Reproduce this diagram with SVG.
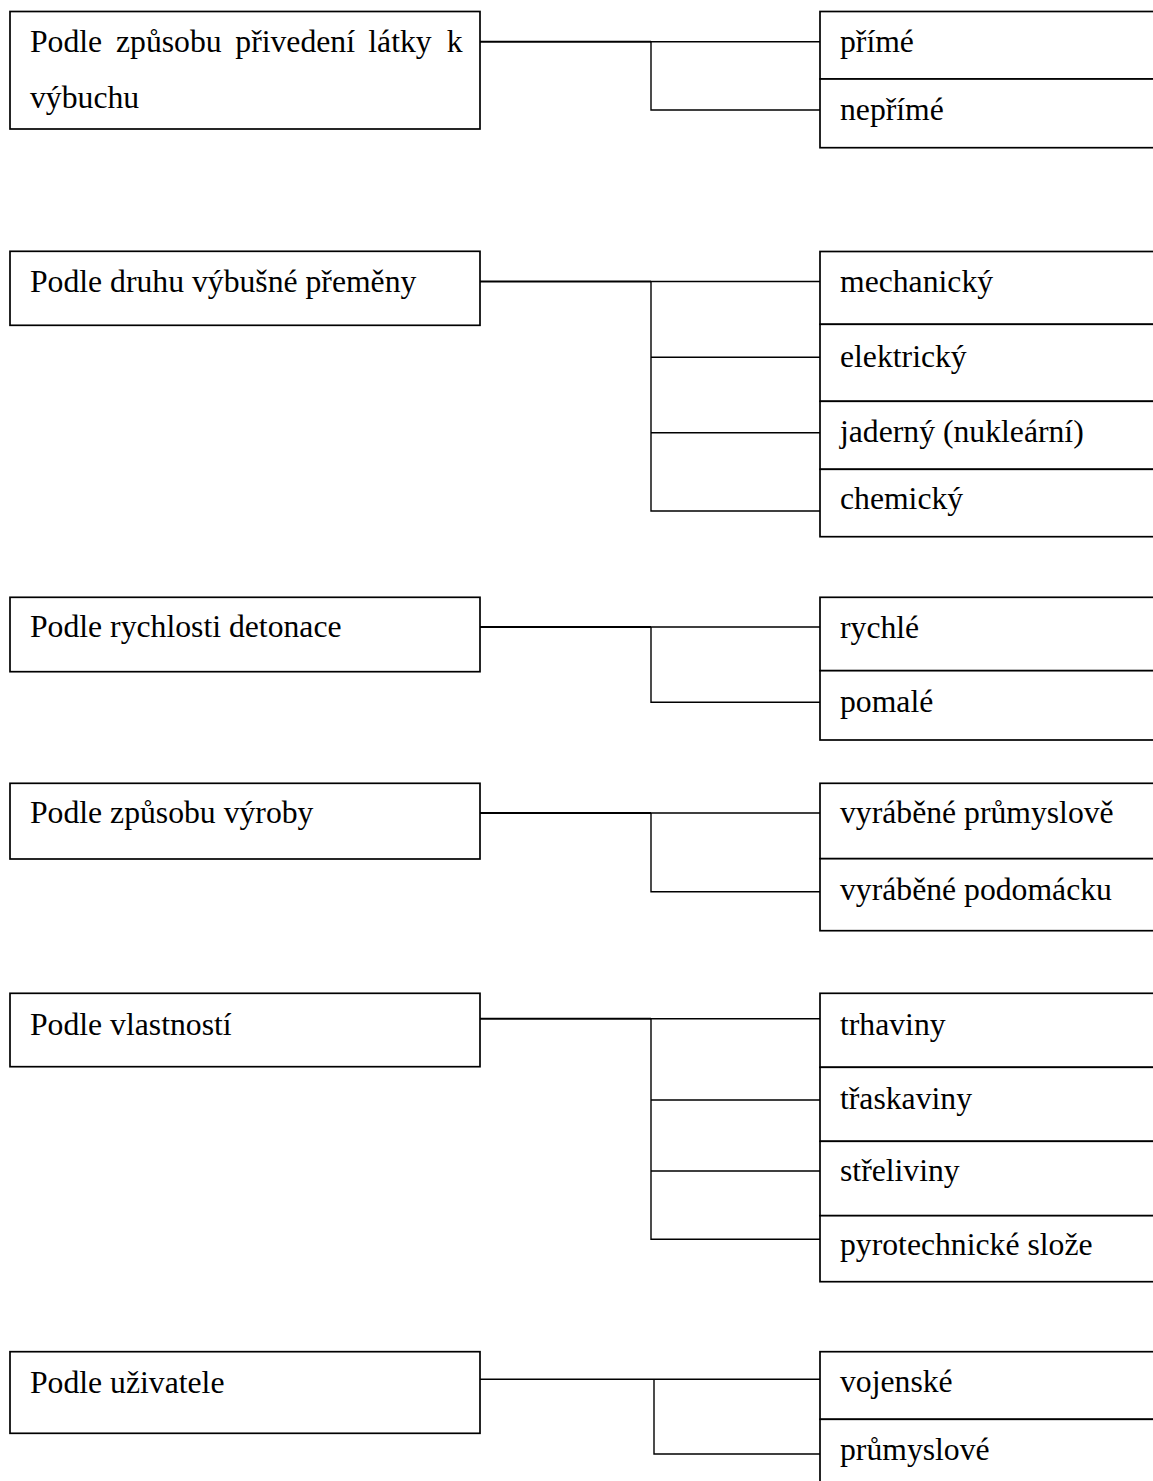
<svg xmlns="http://www.w3.org/2000/svg" width="1153" height="1481" viewBox="0 0 1153 1481">
<style>
.box{fill:#fff;stroke:#000;stroke-width:1.7}
.t{font-family:"Liberation Serif","Times New Roman",serif;font-size:31.7px;fill:#000}
.trunk{fill:none;stroke:#000;stroke-width:2}
.br{fill:none;stroke:#000;stroke-width:1.4}
</style>
<rect width="1153" height="1481" fill="#fff"/>
<g id="connectors">
<path class="trunk" d="M480 41.7H651"/>
<path class="br" d="M651 41.7H820M651 41.7V110H820"/>
<path class="trunk" d="M480 281.5H651"/>
<path class="br" d="M651 281.5H820M651 281.5V511H820M651 357.3H820M651 432.7H820"/>
<path class="trunk" d="M480 627H651"/>
<path class="br" d="M651 627H820M651 627V702.3H820"/>
<path class="trunk" d="M480 813H651"/>
<path class="br" d="M651 813H820M651 813V891.7H820"/>
<path class="trunk" d="M480 1018.8H651"/>
<path class="br" d="M651 1018.8H820M651 1018.8V1239.3H820M651 1100H820M651 1171H820"/>
<path class="br" d="M480 1379.3H654M654 1379.3H820M654 1379.3V1454H820"/>
</g>
<g id="n1">
<rect class="box" x="10" y="11.5" width="470" height="117.5"/>
<text class="t" y="52.3"><tspan x="30">Podle</tspan><tspan x="116">způsobu</tspan><tspan x="235.3">přivedení</tspan><tspan x="368.3">látky</tspan><tspan x="446.7">k</tspan></text>
<text class="t" x="30" y="108.3">výbuchu</text>
</g>
<g id="n1a"><rect class="box" x="820" y="11.5" width="350" height="67.5"/><text class="t" x="840" y="52.3">přímé</text></g>
<g id="n1b"><rect class="box" x="820" y="79" width="350" height="68.7"/><text class="t" x="840" y="120">nepřímé</text></g>

<g id="n2"><rect class="box" x="10" y="251.3" width="470" height="74"/><text class="t" x="30" y="291.7">Podle druhu výbušné přeměny</text></g>
<g id="n2a"><rect class="box" x="820" y="251.5" width="350" height="72.8"/><text class="t" x="840" y="291.7">mechanický</text></g>
<g id="n2b"><rect class="box" x="820" y="324.3" width="350" height="77"/><text class="t" x="840" y="366.7">elektrický</text></g>
<g id="n2c"><rect class="box" x="820" y="401.3" width="350" height="68"/><text class="t" x="840" y="441.7">jaderný (nukleární)</text></g>
<g id="n2d"><rect class="box" x="820" y="469.3" width="350" height="67.4"/><text class="t" x="840" y="509.3">chemický</text></g>

<g id="n3"><rect class="box" x="10" y="597.3" width="470" height="74.4"/><text class="t" x="30" y="637.3">Podle rychlosti detonace</text></g>
<g id="n3a"><rect class="box" x="820" y="597.3" width="350" height="73.4"/><text class="t" x="840" y="638.3">rychlé</text></g>
<g id="n3b"><rect class="box" x="820" y="670.7" width="350" height="69.3"/><text class="t" x="840" y="711.7">pomalé</text></g>

<g id="n4"><rect class="box" x="10" y="783.3" width="470" height="75.7"/><text class="t" x="30" y="823.3">Podle způsobu výroby</text></g>
<g id="n4a"><rect class="box" x="820" y="783.3" width="350" height="75.4"/><text class="t" x="840" y="823.3">vyráběné průmyslově</text></g>
<g id="n4b"><rect class="box" x="820" y="858.7" width="350" height="72"/><text class="t" x="840" y="900">vyráběné podomácku</text></g>

<g id="n5"><rect class="box" x="10" y="993.3" width="470" height="73.4"/><text class="t" x="30" y="1035">Podle vlastností</text></g>
<g id="n5a"><rect class="box" x="820" y="993.3" width="350" height="74"/><text class="t" x="840" y="1035">trhaviny</text></g>
<g id="n5b"><rect class="box" x="820" y="1067.3" width="350" height="74"/><text class="t" x="840" y="1109.3">třaskaviny</text></g>
<g id="n5c"><rect class="box" x="820" y="1141.3" width="350" height="74.4"/><text class="t" x="840" y="1181">střeliviny</text></g>
<g id="n5d"><rect class="box" x="820" y="1215.7" width="350" height="66"/><text class="t" x="840" y="1255">pyrotechnické slože</text></g>

<g id="n6"><rect class="box" x="10" y="1351.7" width="470" height="81.6"/><text class="t" x="30" y="1392.7">Podle uživatele</text></g>
<g id="n6a"><rect class="box" x="820" y="1351.7" width="350" height="67.6"/><text class="t" x="840" y="1391.7">vojenské</text></g>
<g id="n6b"><rect class="box" x="820" y="1419.3" width="350" height="80"/><text class="t" x="840" y="1460">průmyslové</text></g>
</svg>
